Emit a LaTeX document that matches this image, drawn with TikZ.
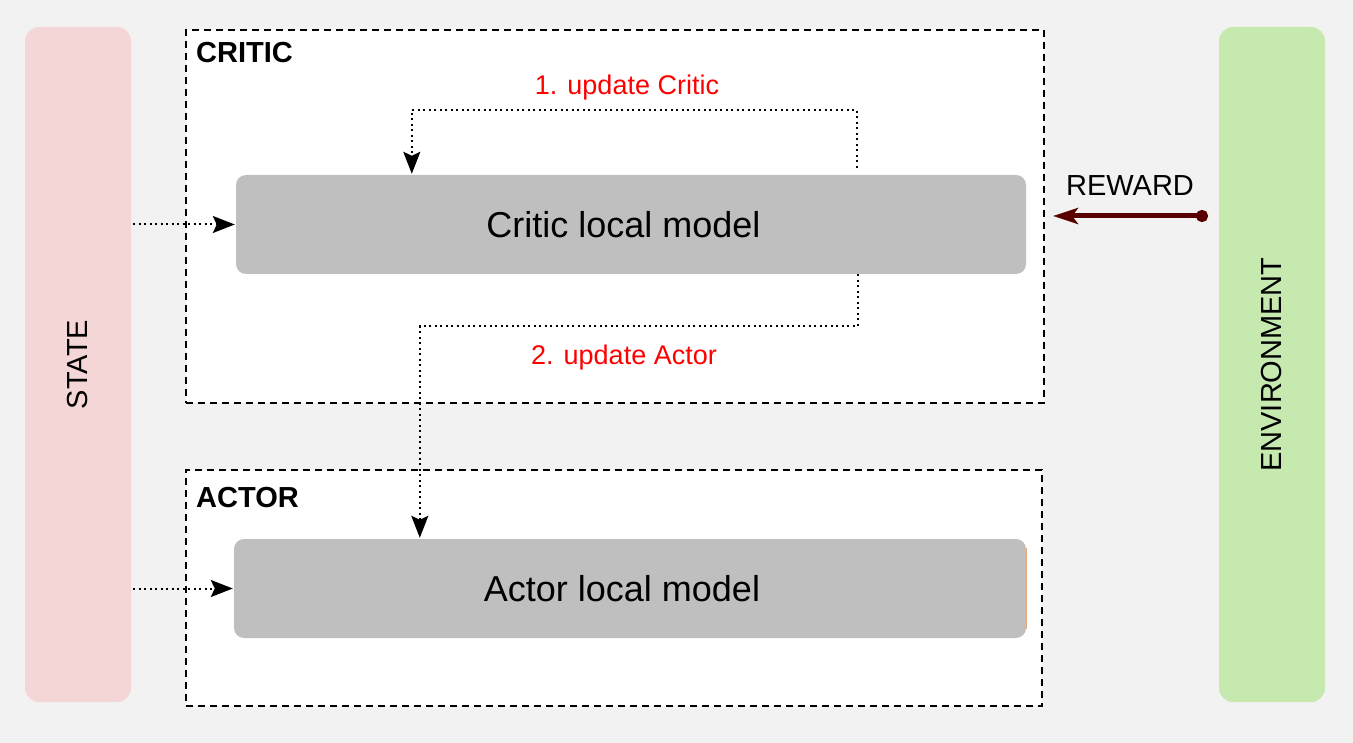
\documentclass[tikz,border=0pt]{standalone}
\usepackage{fontspec}
\setmainfont{Liberation Sans}
\usetikzlibrary{positioning,arrows.meta}

\definecolor{bgcol}{HTML}{F2F2F2}
\definecolor{statecol}{HTML}{F4D6D6}
\definecolor{envcol}{HTML}{C6E9B0}
\definecolor{modelcol}{HTML}{BFBFBF}
\definecolor{rewardcol}{HTML}{580000}
\definecolor{edgecol}{HTML}{E8A878}

\begin{document}
\begin{tikzpicture}[x=1pt,y=-1pt,
  bar/.style={rotate=90, fill=#1, rounded corners=14pt, minimum width=675pt,
    minimum height=106pt, font=\fontsize{29}{35}\selectfont},
  frame/.style={draw, fill=white, line width=2pt, dash pattern=on 7pt off 5pt},
  model/.style={fill=modelcol, rounded corners=10pt, minimum height=99pt},
  title/.style={anchor=base west, inner sep=0pt, font=\fontsize{29}{35}\selectfont\bfseries},
  note/.style={anchor=base, inner sep=0pt, text=red, font=\fontsize{27}{32}\selectfont},
  flow/.style={line width=2pt, dash pattern=on 2pt off 3.5pt, shorten >=1pt,
    -{Stealth[length=22pt,width=17pt,inset=4pt]}},
  reward/.style={draw=rewardcol, line width=5pt,
    {Circle[length=12pt]}-{Stealth[length=25pt,width=16pt,inset=6pt]}}]

% background
\fill[bgcol] (0,0) rectangle (1353,743);

% side bars
\node[bar=statecol] (state) at (78,364.5) {STATE};
\node[bar=envcol] (env) at (1272,364.5) {ENVIRONMENT};

% dashed frames
\node[frame, minimum width=858pt, minimum height=373pt] (criticbox) at (615,216.5) {};
\node[frame, minimum width=856pt, minimum height=236pt] (actorbox) at (614,588) {};
\node[title] (criticttl) at (196,63) {CRITIC};
\node[title] (actorttl) at (196,507) {ACTOR};

% local models
\node[model, minimum width=790pt] (critic) at (631,224.5) {};
\node[model, minimum width=792pt] (actor) at (630,588.5) {};
\draw[edgecol, line width=1pt] ([yshift=-9pt]actor.north east) -- ([yshift=9pt]actor.south east);
\node[font=\fontsize{36}{43}\selectfont] (criticlbl) at (623.5,224.5) {Critic local model};
\node[font=\fontsize{36}{43}\selectfont] (actorlbl) at (622,588.5) {Actor local model};

% state inputs
\draw[flow] ([xshift=2pt]state.south |- critic.west) -- (critic.west);
\draw[flow] ([xshift=2pt]state.south |- actor.west) -- (actor.west);

% updates
\draw[flow] ([xshift=621pt,yshift=7pt]critic.north west) -- ++(0,-58) -| ([xshift=176pt]critic.north west);
\node[note] (upd1) at (627,95) {1. update Critic};

\draw[flow] ([xshift=622pt]critic.south west) -- ++(0,52) -| ([xshift=186pt]actor.north west);
\node[note] (upd2) at (624,365) {2. update Actor};

% reward
\coordinate (rwstart) at (1208,216);
\coordinate (rwend) at (1053,216);
\draw[reward] (rwstart) -- (rwend);
\node[anchor=base, inner sep=0pt, font=\fontsize{29}{35}\selectfont] (rewardlbl) at (1130,196) {REWARD};

\end{tikzpicture}
\end{document}
